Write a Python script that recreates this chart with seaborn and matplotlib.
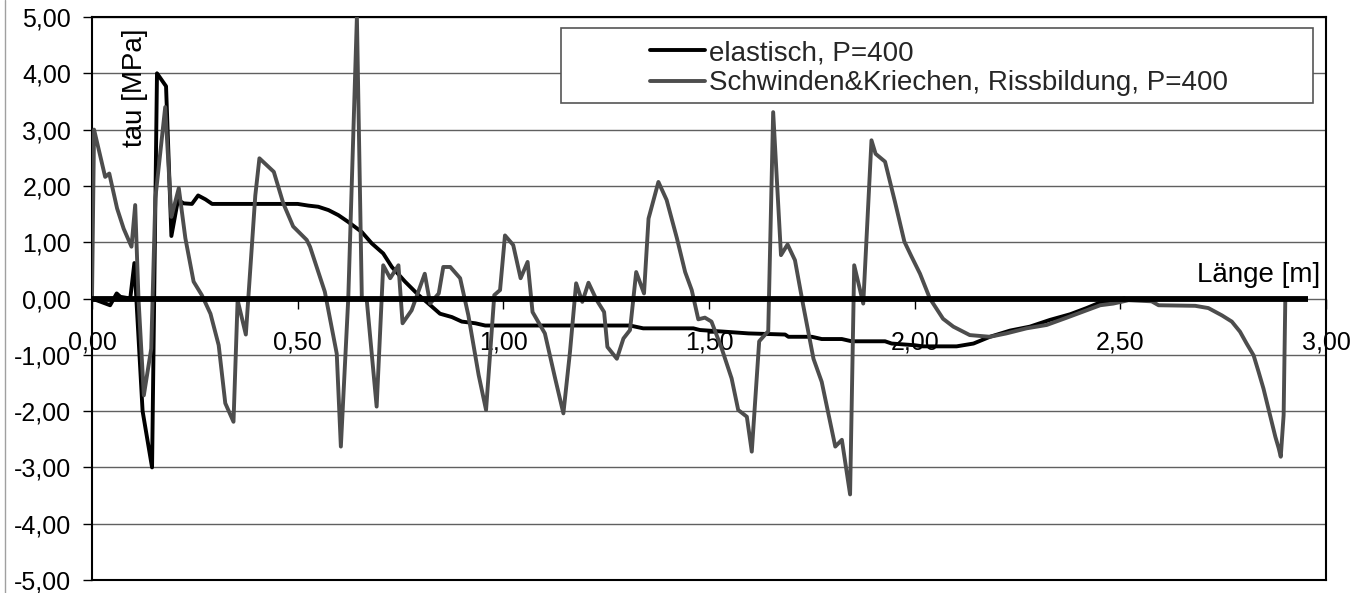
import numpy as np
import pandas as pd
import matplotlib
matplotlib.use("Agg")
import matplotlib.pyplot as plt
import seaborn as sns
from matplotlib.patches import Rectangle
from matplotlib.lines import Line2D

# ---------------- data ----------------
elastisch_x = [0.0, 0.044, 0.06, 0.069, 0.093, 0.103, 0.123, 0.146, 0.158, 0.180, 0.193, 0.209,
               0.223, 0.243, 0.258, 0.276, 0.292, 0.40, 0.50, 0.526, 0.55, 0.575, 0.599, 0.623,
               0.656, 0.68, 0.708, 0.729, 0.761, 0.794, 0.818, 0.846, 0.875, 0.899, 0.932, 0.956,
               1.0, 1.308, 1.34, 1.462, 1.478, 1.539, 1.596, 1.685, 1.693, 1.75, 1.774, 1.823,
               1.847, 1.928, 1.944, 2.0, 2.02, 2.102, 2.143, 2.183, 2.232, 2.28, 2.329, 2.378,
               2.418, 2.451, 2.483, 2.51]
elastisch_y = [0.0, -0.12, 0.09, 0.03, 0.0, 0.63, -2.0, -3.0, 4.0, 3.77, 1.11, 1.75,
               1.69, 1.68, 1.83, 1.76, 1.68, 1.68, 1.68, 1.65, 1.63, 1.57, 1.48, 1.36,
               1.18, 0.98, 0.80, 0.56, 0.30, 0.06, -0.09, -0.27, -0.33, -0.41, -0.44, -0.48,
               -0.48, -0.48, -0.53, -0.53, -0.56, -0.59, -0.62, -0.64, -0.68, -0.68, -0.72, -0.72,
               -0.76, -0.76, -0.80, -0.83, -0.85, -0.85, -0.80, -0.68, -0.57, -0.50, -0.38, -0.28,
               -0.17, -0.07, -0.03, 0.0]

schwinden_x = [0.0, 0.005, 0.032, 0.042, 0.061, 0.077, 0.096, 0.105, 0.113, 0.126, 0.144, 0.154,
               0.178, 0.193, 0.211, 0.227, 0.247, 0.267, 0.288, 0.308, 0.324, 0.344, 0.354, 0.374,
               0.397, 0.407, 0.442, 0.465, 0.489, 0.522, 0.53, 0.566, 0.595, 0.605, 0.623, 0.644,
               0.656, 0.668, 0.692, 0.708, 0.725, 0.745, 0.755, 0.777, 0.809, 0.822, 0.843, 0.854,
               0.871, 0.895, 0.915, 0.94, 0.958, 0.978, 0.992, 1.004, 1.024, 1.042, 1.059, 1.071,
               1.101, 1.126, 1.146, 1.162, 1.177, 1.192, 1.207, 1.227, 1.245, 1.253, 1.276, 1.292,
               1.308, 1.323, 1.342, 1.353, 1.377, 1.397, 1.422, 1.442, 1.458, 1.474, 1.49, 1.506,
               1.531, 1.555, 1.571, 1.592, 1.604, 1.622, 1.644, 1.656, 1.675, 1.691, 1.709, 1.729,
               1.754, 1.774, 1.807, 1.823, 1.843, 1.853, 1.875, 1.895, 1.905, 1.928, 1.952, 1.975,
               1.992, 2.013, 2.037, 2.069, 2.094, 2.134, 2.183, 2.223, 2.272, 2.321, 2.37, 2.418,
               2.451, 2.483, 2.52, 2.576, 2.593, 2.682, 2.714, 2.747, 2.771, 2.791, 2.807, 2.824,
               2.836, 2.848, 2.864, 2.877, 2.885, 2.89, 2.897, 2.901]
schwinden_y = [0.0, 3.0, 2.16, 2.22, 1.60, 1.24, 0.92, 1.66, 0.0, -1.72, -0.89, 1.78,
               3.40, 1.45, 1.96, 1.07, 0.30, 0.06, -0.27, -0.83, -1.86, -2.19, -0.03, -0.64,
               1.83, 2.49, 2.25, 1.69, 1.28, 1.04, 0.92, 0.12, -0.98, -2.63, 0.0, 5.0,
               0.0, -0.03, -1.92, 0.59, 0.36, 0.59, -0.44, -0.21, 0.44, -0.09, 0.09, 0.56,
               0.56, 0.36, -0.30, -1.36, -1.98, 0.06, 0.15, 1.12, 0.95, 0.36, 0.65, -0.24,
               -0.62, -1.42, -2.04, -0.95, 0.27, -0.06, 0.28, -0.03, -0.24, -0.86, -1.07, -0.71,
               -0.56, 0.47, 0.09, 1.42, 2.07, 1.75, 1.07, 0.47, 0.15, -0.37, -0.34, -0.41,
               -0.89, -1.42, -1.98, -2.10, -2.72, -0.76, -0.58, 3.31, 0.77, 0.96, 0.68, -0.12,
               -1.07, -1.48, -2.63, -2.51, -3.48, 0.59, -0.09, 2.81, 2.57, 2.43, 1.72, 1.01,
               0.75, 0.44, 0.0, -0.36, -0.50, -0.65, -0.68, -0.62, -0.53, -0.47, -0.34, -0.21,
               -0.12, -0.09, -0.03, -0.05, -0.12, -0.13, -0.17, -0.30, -0.41, -0.59, -0.80, -1.01,
               -1.30, -1.60, -2.07, -2.46, -2.66, -2.81, -2.07, -0.05]

zero_x = [0.0, 2.957]
zero_y = [0.0, 0.0]

series_names = ["elastisch, P=400", "Schwinden&Kriechen, Rissbildung, P=400"]
x_ticks = [0.0, 0.5, 1.0, 1.5, 2.0, 2.5, 3.0]
x_ticklabels = ["0,00", "0,50", "1,00", "1,50", "2,00", "2,50", "3,00"]
y_ticks = [-5, -4, -3, -2, -1, 0, 1, 2, 3, 4, 5]
y_ticklabels = ["-5,00", "-4,00", "-3,00", "-2,00", "-1,00", "0,00",
                "1,00", "2,00", "3,00", "4,00", "5,00"]
x_title = "Länge [m]"
y_title = "tau [MPa]"

# ---------------- style ----------------
sns.set_style("white")
plt.rcParams["font.family"] = ["Liberation Sans", "DejaVu Sans"]

W, H = 1352, 593
fig = plt.figure(figsize=(W / 100, H / 100), dpi=100)
ax = fig.add_axes([92 / W, 13 / H, 1234 / W, 563 / H])

df = pd.concat([
    pd.DataFrame({"x": elastisch_x, "y": elastisch_y, "series": series_names[0]}),
    pd.DataFrame({"x": schwinden_x, "y": schwinden_y, "series": series_names[1]}),
], ignore_index=True)

sns.lineplot(data=df, x="x", y="y", hue="series", hue_order=series_names,
             palette={series_names[0]: "#000000", series_names[1]: "#4d4d4d"},
             sort=False, estimator=None, linewidth=2.8, ax=ax, legend=False, zorder=3)

ax.plot(zero_x, zero_y, color="black", linewidth=4.2, zorder=4, solid_capstyle="butt")

ax.set_xlim(0, 3)
ax.set_ylim(-5, 5)

# y axis
ax.set_yticks(y_ticks)
ax.set_yticklabels(y_ticklabels)
ax.tick_params(axis="y", left=True, direction="out", length=6.5, width=1,
               pad=8.5, labelsize=18, colors="black")
ax.tick_params(axis="x", bottom=False, labelbottom=False)
ax.grid(axis="y", color="#606060", linewidth=1)
ax.grid(axis="x", visible=False)
ax.set_axisbelow(True)
for sp in ax.spines.values():
    sp.set_visible(True)
    sp.set_color("black")
    sp.set_linewidth(1.5)

# x axis crossing at y = 0
sec = ax.secondary_xaxis(0.5)
sec.set_alignment("bottom")
sec.set_xticks(x_ticks)
sec.set_xticklabels(x_ticklabels)
sec.tick_params(direction="out", length=7, width=1, pad=16, labelsize=18, colors="black")
for sp in sec.spines.values():
    sp.set_visible(False)

# axis titles inside plot
ax.set_ylabel(y_title, fontsize=20, color="black")
ax.yaxis.label.set_rotation_mode("default")
ax.yaxis.label.set_ha("center")
ax.yaxis.label.set_va("top")
ax.yaxis.set_label_coords(0.0348, 0.980)

ax.set_xlabel(x_title, fontsize=20, color="black", ha="right", va="bottom")
ax.xaxis.set_label_coords(0.995, 0.519)

# legend
ax.add_patch(Rectangle((0.380, 0.847), 0.6095, 0.1335, transform=ax.transAxes,
                       facecolor="white", edgecolor="#555555", linewidth=1.2, zorder=5))
leg = ax.legend(handles=ax.lines[:2], labels=series_names, loc="upper left",
                bbox_to_anchor=(0.4522, 0.959), frameon=False, fontsize=20,
                handlelength=1.98, handletextpad=0.15, labelspacing=0.15,
                borderpad=0, borderaxespad=0)
leg.set_zorder(6)

fig.add_artist(Line2D([5 / W, 5 / W], [0, 1], transform=fig.transFigure,
                      color="#a0a0a0", linewidth=1))

fig.savefig("out.png", dpi=100)
